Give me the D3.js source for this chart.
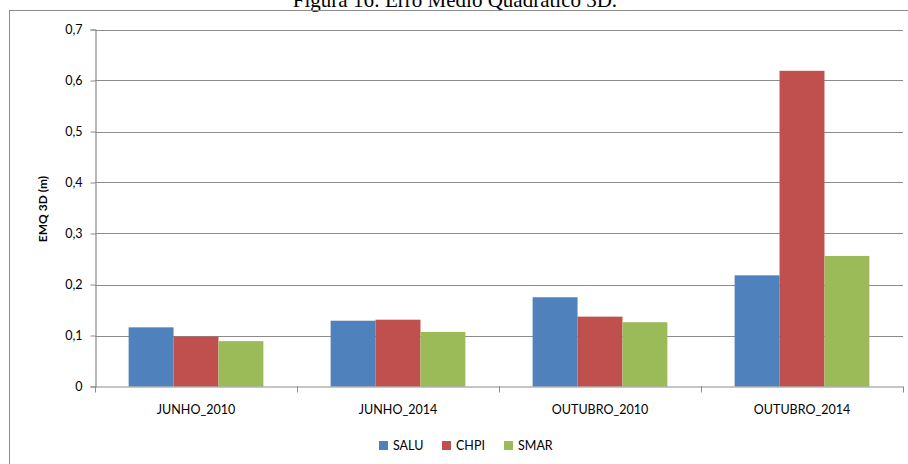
<!DOCTYPE html>
<html><head><meta charset="utf-8">
<script src="https://cdn.jsdelivr.net/npm/d3@7"></script>
<style>body{margin:0;background:#fff;}svg{display:block;}</style>
</head><body>
<svg id="c" width="908" height="464"></svg>
<script>
const categories = ["JUNHO_2010", "JUNHO_2014", "OUTUBRO_2010", "OUTUBRO_2014"];
const seriesNames = ["SALU", "CHPI", "SMAR"];
const SALU = [0.116, 0.129, 0.175, 0.218];
const CHPI = [0.098, 0.131, 0.137, 0.619];
const SMAR = [0.089, 0.107, 0.126, 0.256];
const yTicks = [0, 0.1, 0.2, 0.3, 0.4, 0.5, 0.6, 0.7];
const colors = ["#4F81BD", "#C0504D", "#9BBB59"];
const seriesValues = [SALU, CHPI, SMAR];

const svg = d3.select("#c");
const font = "Lato, 'Open Sans', sans-serif";
const gridColor = "#8c8c8c";

// title (clipped at top, as in the reference)
svg.append("text").attr("x", 455).attr("y", 7).attr("text-anchor", "middle")
  .attr("font-family", "'Liberation Serif', 'Times New Roman', serif").attr("font-size", 21)
  .attr("fill", "#000").text("Figura 16: Erro Médio Quadrático 3D.");

// frame
svg.append("rect").attr("x", 9.5).attr("y", 10.5).attr("width", 920).attr("height", 470)
  .attr("fill", "none").attr("stroke", gridColor).attr("stroke-width", 1);

const x0 = 95, x1 = 903, yTop = 29.5, yBot = 386.5;
const x = d3.scaleBand().domain(categories).range([x0, x1]).paddingInner(0.333).paddingOuter(0.1665);
const xs = d3.scaleBand().domain(seriesNames).range([0, x.bandwidth()]);
const y = d3.scaleLinear().domain([0, 0.7]).range([yBot, yTop]);

// gridlines
svg.append("g").selectAll("line").data(yTicks.filter(d => d > 0)).join("line")
  .attr("x1", x0).attr("x2", x1).attr("y1", d => Math.round(y(d)) + 0.5).attr("y2", d => Math.round(y(d)) + 0.5)
  .attr("stroke", gridColor).attr("stroke-width", 1.2);

// bars
const g = svg.append("g");
seriesNames.forEach((s, si) => {
  g.selectAll(null).data(categories).join("rect")
    .attr("x", c => x(c) + xs(s))
    .attr("width", xs.bandwidth())
    .attr("y", (c, i) => y(seriesValues[si][i]))
    .attr("height", (c, i) => yBot - y(seriesValues[si][i]))
    .attr("fill", colors[si]);
});

// y axis
const yAxis = d3.axisLeft(y).tickValues(yTicks).tickSize(5).tickPadding(8)
  .tickFormat(d => d === 0 ? "0" : d3.format(".1f")(d).replace(".", ","));
const ya = svg.append("g").attr("transform", `translate(${x0 + 0.5},0)`).call(yAxis);
ya.select(".domain").attr("stroke", gridColor).attr("stroke-width", 1.2);
ya.selectAll(".tick line").attr("stroke", gridColor);
ya.selectAll("text").attr("font-family", font).attr("font-size", 12.5).attr("fill", "#000");

// x axis
svg.append("line").attr("x1", x0).attr("x2", x1).attr("y1", yBot + 0.5).attr("y2", yBot + 0.5)
  .attr("stroke", gridColor).attr("stroke-width", 1.2);
const edges = [x0].concat(categories.map(c => x(c) + x.bandwidth() + x.step() * x.paddingInner() / 2));
svg.append("g").selectAll("line").data(edges).join("line")
  .attr("x1", d => Math.round(d) + 0.5).attr("x2", d => Math.round(d) + 0.5)
  .attr("y1", yBot).attr("y2", yBot + 6).attr("stroke", gridColor);
svg.append("g").selectAll("text").data(categories).join("text")
  .attr("x", c => x(c) + x.bandwidth() / 2).attr("y", 414).attr("text-anchor", "middle")
  .attr("font-family", font).attr("font-size", 12.5).attr("fill", "#000").text(c => c);

// y label
svg.append("text").attr("transform", "translate(47,209) rotate(-90)").attr("text-anchor", "middle")
  .attr("font-family", font).attr("font-weight", "bold").attr("font-size", 12).attr("fill", "#000")
  .text("EMQ 3D (m)");

// legend
const legX = [379, 442, 504];
const lg = svg.append("g");
seriesNames.forEach((s, i) => {
  lg.append("rect").attr("x", legX[i]).attr("y", 441).attr("width", 9).attr("height", 9).attr("fill", colors[i]);
  lg.append("text").attr("x", legX[i] + 14).attr("y", 450).attr("font-family", font).attr("font-size", 12.5)
    .attr("fill", "#000").text(s);
});
</script>
</body></html>
